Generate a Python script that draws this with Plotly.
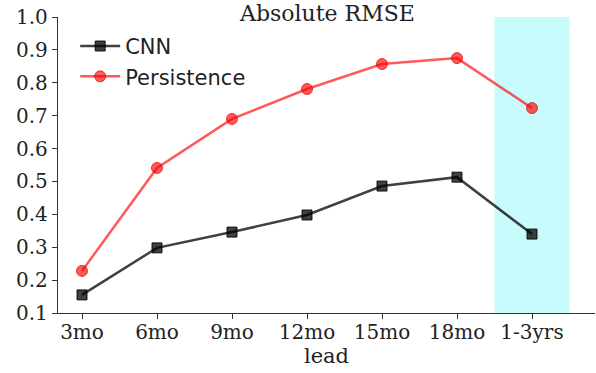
import plotly.graph_objects as go

leads = ["3mo", "6mo", "9mo", "12mo", "15mo", "18mo", "1-3yrs"]
cnn = [0.155, 0.298, 0.346, 0.398, 0.486, 0.513, 0.340]
persistence = [0.228, 0.541, 0.690, 0.781, 0.857, 0.875, 0.723]
yticks = [0.1, 0.2, 0.3, 0.4, 0.5, 0.6, 0.7, 0.8, 0.9, 1.0]

xs = list(range(len(leads)))

fig = go.Figure()
fig.add_shape(type="rect", xref="x", yref="y", x0=5.5, x1=6.5, y0=0.1, y1=1.0,
              fillcolor="#c8fcfc", line=dict(width=0), layer="below")
fig.add_trace(go.Scatter(x=xs, y=cnn, name="CNN", mode="lines+markers", legendgroup="a",
                         line=dict(color="rgba(0,0,0,0.75)", width=2.5),
                         marker=dict(symbol="square", size=10, color="rgba(0,0,0,0.75)",
                                     line=dict(color="rgba(0,0,0,0.85)", width=1))))
fig.add_trace(go.Scatter(x=xs, y=persistence, name="Persistence", mode="lines+markers", legendgroup="b",
                         line=dict(color="rgba(255,0,0,0.65)", width=2.5),
                         marker=dict(symbol="circle", size=11, color="rgba(255,0,0,0.65)",
                                     line=dict(color="rgba(220,0,0,0.7)", width=1))))

fig.add_annotation(text="Absolute RMSE", xref="paper", yref="paper", x=0.5, y=1.0,
                   xanchor="center", yanchor="bottom", yshift=-11, showarrow=False,
                   font=dict(family="DejaVu Serif", size=22, color="#222"))

fig.update_layout(
    width=596, height=373,
    margin=dict(l=58, r=1, t=17, b=60, autoexpand=False),
    paper_bgcolor="white", plot_bgcolor="white",
    showlegend=True,
    legend=dict(x=0.032, y=0.97, xanchor="left", yanchor="top", traceorder="grouped",
                font=dict(family="DejaVu Sans", size=21, color="#222"),
                bgcolor="rgba(0,0,0,0)", tracegroupgap=0, itemwidth=40),
    xaxis=dict(range=[-0.32, 6.84], tickvals=xs, ticktext=leads, automargin=False,
               showgrid=False, zeroline=False, showline=True, linecolor="#333", linewidth=1.3,
               ticks="outside", ticklen=5, tickcolor="#333", ticklabelstandoff=-4,
               tickfont=dict(family="DejaVu Serif", size=20, color="#222"),
               title=dict(text="lead", font=dict(family="DejaVu Serif", size=21, color="#222"), standoff=2)),
    yaxis=dict(range=[0.1, 1.0], tickvals=yticks, ticktext=[f"{v:.1f}" for v in yticks], automargin=False,
               showgrid=False, zeroline=False, showline=True, linecolor="#333", linewidth=1.3,
               ticks="outside", ticklen=5, tickcolor="#333",
               tickfont=dict(family="DejaVu Serif", size=20, color="#222")),
)

fig.write_html("out.html", config={"displayModeBar": False},
               post_script="document.body.style.margin='0';document.body.style.overflow='hidden';")
